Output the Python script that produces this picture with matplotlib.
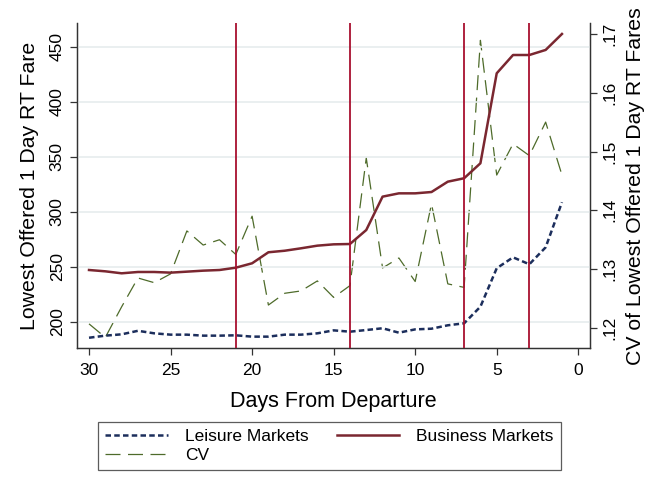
import matplotlib
matplotlib.use("Agg")
import matplotlib.pyplot as plt

plt.rcParams['font.family'] = ['Liberation Sans', 'DejaVu Sans']

days = list(range(30, 0, -1))

leisure = [185.7, 187.6, 188.8, 192.0, 189.7, 188.5, 188.5, 187.6, 187.6, 187.9,
           186.7, 186.7, 188.5, 188.5, 189.7, 192.4, 191.2, 192.7, 194.3, 190.3,
           193.3, 193.9, 197.0, 198.8, 213.9, 248.8, 258.7, 252.4, 267.8, 308.7]

business = [247.2, 246.0, 244.2, 245.4, 245.4, 244.8, 245.7, 246.6, 247.2, 249.3,
            253.3, 263.3, 264.7, 266.9, 269.3, 270.5, 270.8, 283.5, 313.8, 316.8,
            316.8, 318.0, 327.4, 330.5, 344.1, 425.8, 442.4, 442.4, 447.0, 461.5]

cv = [0.1207, 0.1184, 0.1236, 0.1285, 0.1277, 0.1292, 0.1365, 0.1341, 0.1350, 0.1325,
      0.1390, 0.1239, 0.1259, 0.1263, 0.1280, 0.1252, 0.1272, 0.1489, 0.1302, 0.1319,
      0.1279, 0.1411, 0.1275, 0.1269, 0.1689, 0.1460, 0.1513, 0.1493, 0.1550, 0.1460]

event_days = [21, 14, 7, 3]

x_ticks = [30, 25, 20, 15, 10, 5, 0]
left_ticks = [200, 250, 300, 350, 400, 450]
right_ticks = [0.12, 0.13, 0.14, 0.15, 0.16, 0.17]
right_labels = ['.12', '.13', '.14', '.15', '.16', '.17']

navy = '#1c2e5c'
maroon = '#7a2730'
olive = '#4e6b2a'
cranberry = '#a8102f'
grid_col = '#e6ecee'

fig = plt.figure(figsize=(6.56, 4.78), dpi=100)
ax = fig.add_axes([0.1178, 0.272, 0.8994 - 0.1178, 0.9513 - 0.272])
ax2 = ax.twinx()

for v in left_ticks:
    ax.axhline(v, color=grid_col, lw=1.2, zorder=0)

l1, = ax.plot(days, leisure, color=navy, lw=1.8, linestyle=(0, (2.2, 1.3)), zorder=3)
l2, = ax.plot(days, business, color=maroon, lw=1.8, zorder=3)
l3, = ax2.plot(days, cv, color=olive, lw=0.9, linestyle=(0, (12, 6)), zorder=2)

for d in event_days:
    ax.axvline(d, color=cranberry, lw=1.3, zorder=4)

ax.set_xlim(30.72, -0.72)
ax.set_ylim(176.4, 471.2)
ax2.set_ylim(0.1166, 0.1718)

ax.set_xticks(x_ticks)
ax.set_xticklabels([str(t) for t in x_ticks], fontsize=12.5)
ax.set_yticks(left_ticks)
ax.set_yticklabels([str(t) for t in left_ticks], fontsize=12.5, rotation=90, va='center')
ax2.set_yticks(right_ticks)
ax2.set_yticklabels(right_labels, fontsize=12.5, rotation=90, va='center')

for a in (ax, ax2):
    a.spines['top'].set_visible(False)
    for s in ('left', 'right', 'bottom'):
        a.spines[s].set_color('#333333')
        a.spines[s].set_linewidth(0.9)
    a.tick_params(length=5, width=0.9, color='#333333', pad=4)
ax.tick_params(axis='x', pad=6)

ax.set_xlabel('Days From Departure', fontsize=15.5, labelpad=9)
ax.set_ylabel('Lowest Offered 1 Day RT Fare', fontsize=15.3, labelpad=8)
ax2.set_ylabel('CV of Lowest Offered 1 Day RT Fares', fontsize=15.3, labelpad=6)

# ax2 drawn above ax; keep primary lines on top
ax.set_zorder(ax2.get_zorder() + 1)
ax.patch.set_visible(False)

leg = fig.legend([l1, l3, l2], ['Leisure Markets', 'CV', 'Business Markets'],
                 ncol=2, loc='center', bbox_to_anchor=(0.5024, 0.0670),
                 fontsize=12.5, frameon=True, fancybox=False, handlelength=3.6,
                 columnspacing=1.6, borderpad=0.4, labelspacing=0.2,
                 handletextpad=1.0)
leg.get_frame().set_edgecolor('#333333')
leg.get_frame().set_linewidth(0.9)

fig.savefig('out.png', dpi=100)
